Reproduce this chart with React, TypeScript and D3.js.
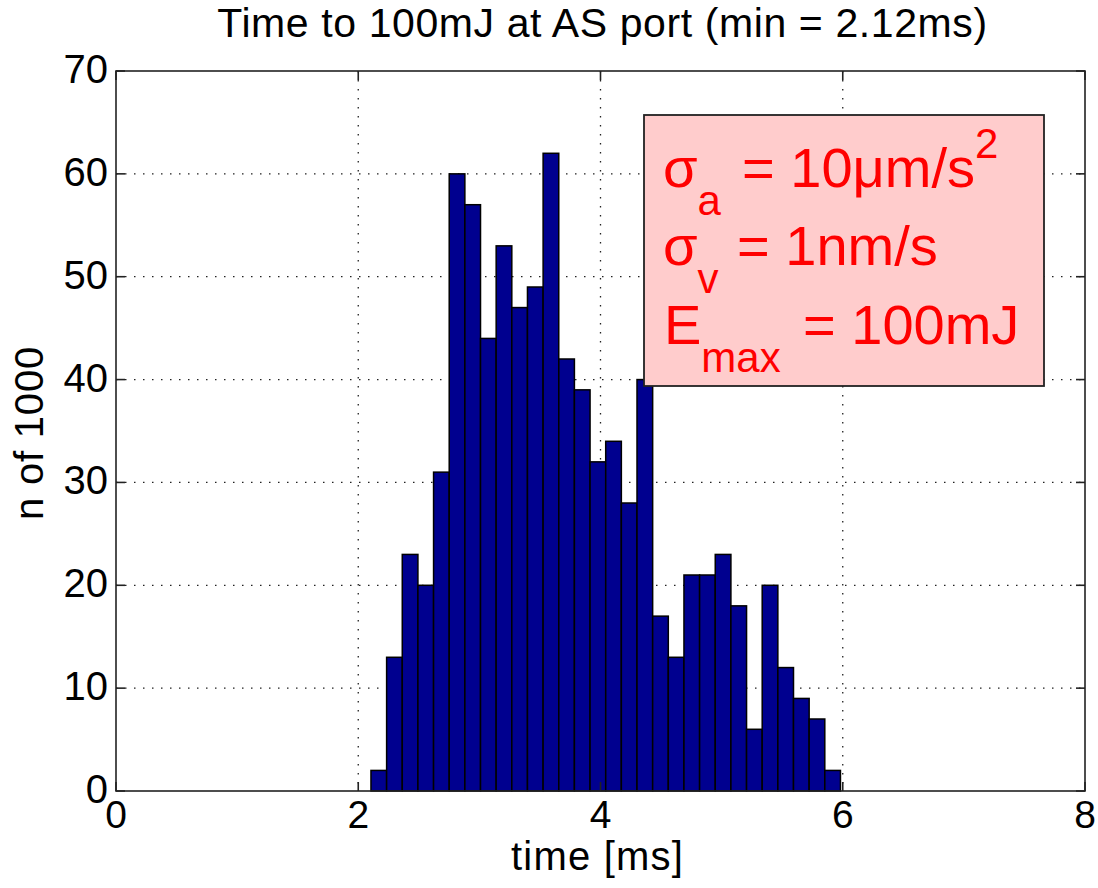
import React from "react";
import * as d3 from "d3";

// Histogram of time-to-energy results (30 equal bins)
const binStart = 2.105;
const binWidth = 0.1292;
const counts = [
  2, 13, 23, 20, 31, 60, 57, 44, 53, 47, 49, 62, 42, 39, 32,
  34, 28, 40, 17, 13, 21, 21, 23, 18, 6, 20, 12, 9, 7, 2,
];
const xTicks = [0, 2, 4, 6, 8];
const yTicks = [0, 10, 20, 30, 40, 50, 60, 70];
const title = "Time to 100mJ at AS port (min = 2.12ms)";
const xLabel = "time [ms]";
const yLabel = "n of 1000";

const W = 1098;
const H = 888;
const plot = { left: 116, right: 1085, top: 71, bottom: 791 };
const FONT = "'Liberation Sans', Arial, Helvetica, sans-serif";

export default function App() {
  const x = d3.scaleLinear().domain([0, 8]).range([plot.left, plot.right]);
  const y = d3.scaleLinear().domain([0, 70]).range([plot.bottom, plot.top]);

  const bins = counts.map((c, i) => ({
    x0: binStart + i * binWidth,
    x1: binStart + (i + 1) * binWidth,
    c,
  }));

  const tickLen = 9;
  const gridStyle = {
    stroke: "#222",
    strokeWidth: 1.3,
    strokeDasharray: "1.5 7.5",
  };

  return (
    <svg
      width={W}
      height={H}
      viewBox={`0 0 ${W} ${H}`}
      style={{ position: "absolute", left: 0, top: 0, background: "#fff" }}
      fontFamily={FONT}
    >
      <rect x={0} y={0} width={W} height={H} fill="#fff" />

      {/* dotted grid */}
      {xTicks
        .filter((t) => t > 0 && t < 8)
        .map((t) => (
          <line key={"gx" + t} x1={x(t)} x2={x(t)} y1={plot.top} y2={plot.bottom} {...gridStyle} />
        ))}
      {yTicks
        .filter((t) => t > 0 && t < 70)
        .map((t) => (
          <line key={"gy" + t} x1={plot.left} x2={plot.right} y1={y(t)} y2={y(t)} {...gridStyle} />
        ))}

      {/* bars */}
      {bins.map((b, i) => (
        <rect
          key={i}
          x={x(b.x0)}
          y={y(b.c)}
          width={x(b.x1) - x(b.x0)}
          height={y(0) - y(b.c)}
          fill="#00008F"
          stroke="#000"
          strokeWidth={1.5}
        />
      ))}

      {/* axes box and inward ticks */}
      <rect
        x={plot.left}
        y={plot.top}
        width={plot.right - plot.left}
        height={plot.bottom - plot.top}
        fill="none"
        stroke="#222"
        strokeWidth={1.6}
      />
      {xTicks.map((t) => (
        <g key={"tx" + t} stroke="#222" strokeWidth={1.6}>
          <line x1={x(t)} x2={x(t)} y1={plot.bottom} y2={plot.bottom - tickLen} />
          <line x1={x(t)} x2={x(t)} y1={plot.top} y2={plot.top + tickLen} />
        </g>
      ))}
      {yTicks.map((t) => (
        <g key={"ty" + t} stroke="#222" strokeWidth={1.6}>
          <line x1={plot.left} x2={plot.left + tickLen} y1={y(t)} y2={y(t)} />
          <line x1={plot.right} x2={plot.right - tickLen} y1={y(t)} y2={y(t)} />
        </g>
      ))}

      {/* tick labels */}
      {xTicks.map((t) => (
        <text key={"lx" + t} x={x(t)} y={plot.bottom + 37} fontSize={39} textAnchor="middle" fill="#000">
          {t}
        </text>
      ))}
      {yTicks.map((t) => (
        <text key={"ly" + t} x={plot.left - 8} y={y(t) + 12} fontSize={40} textAnchor="end" fill="#000">
          {t}
        </text>
      ))}

      {/* labels */}
      <text
        x={(plot.left + plot.right) / 2 + 2}
        y={37}
        fontSize={41}
        letterSpacing={0.6}
        textAnchor="middle"
        fill="#000"
      >
        {title}
      </text>
      <text
        x={(plot.left + plot.right) / 2 - 3}
        y={870}
        fontSize={40}
        letterSpacing={1.2}
        textAnchor="middle"
        fill="#000"
      >
        {xLabel}
      </text>
      <text
        transform={`translate(43, ${(plot.top + plot.bottom) / 2 + 2}) rotate(-90)`}
        fontSize={40}
        letterSpacing={0.8}
        textAnchor="middle"
        fill="#000"
      >
        {yLabel}
      </text>

      {/* parameter annotation */}
      <rect x={644} y={115} width={400} height={271} fill="#FFCCCC" stroke="#222" strokeWidth={1.8} />
      <g fill="#FF0000" fontSize={56}>
        <text x={663} y={187}>
          <tspan>σ</tspan>
          <tspan fontSize={42} dy={28}>a</tspan>
          <tspan x={742} dy={-28}>= 10μm/s</tspan>
          <tspan fontSize={42} dy={-29}>2</tspan>
        </text>
        <text x={663} y={265}>
          <tspan>σ</tspan>
          <tspan fontSize={42} dy={28}>v</tspan>
          <tspan x={737} dy={-28}>= 1nm/s</tspan>
        </text>
        <text x={664} y={344}>
          <tspan>E</tspan>
          <tspan fontSize={42} dy={28}>max</tspan>
          <tspan x={803} dy={-28}>= 100mJ</tspan>
        </text>
      </g>
    </svg>
  );
}
